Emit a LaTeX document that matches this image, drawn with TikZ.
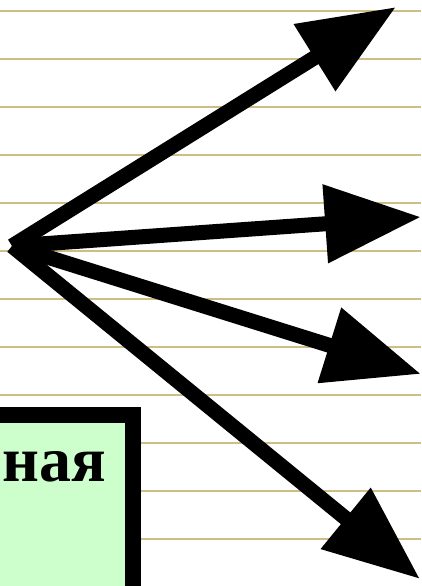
\documentclass[tikz,border=0pt]{standalone}
\usepackage{fontspec}
\setmainfont{Liberation Serif}
\usepackage{tikz}
\usetikzlibrary{arrows.meta}
\definecolor{ruleline}{HTML}{CCBE85}
\definecolor{boxgreen}{HTML}{CCFFCC}

\begin{document}
\begin{tikzpicture}[x=1pt, y=-1pt,
  bigarrow/.style={-{Triangle[length=96pt, width=75pt]}, line width=15pt},
  rule/.style={ruleline, line width=2pt}]
\useasboundingbox (0,0) rectangle (421,586);
\clip (0,0) rectangle (421,586);
% ruled paper
\foreach \y in {11,59,...,539} {
  \draw[rule] (0,\y) -- (421,\y);
}
% arrows
\coordinate (src) at (12,246);
\coordinate (t1) at (396,7);
\coordinate (t2) at (421,217);
\coordinate (t3) at (421,374);
\coordinate (t4) at (420,579);
\draw[bigarrow] (src) -- (t1);
\draw[bigarrow] (src) -- (t2);
\draw[bigarrow] (src) -- (t3);
\draw[bigarrow] (src) -- (t4);
% box
\draw[line width=16pt, fill=boxgreen] (-20,415) rectangle (133,620);
\node[anchor=base west, inner sep=0pt, font=\bfseries\fontsize{64}{64}\selectfont] (word) at (2,481) {ная};
\end{tikzpicture}
\end{document}
